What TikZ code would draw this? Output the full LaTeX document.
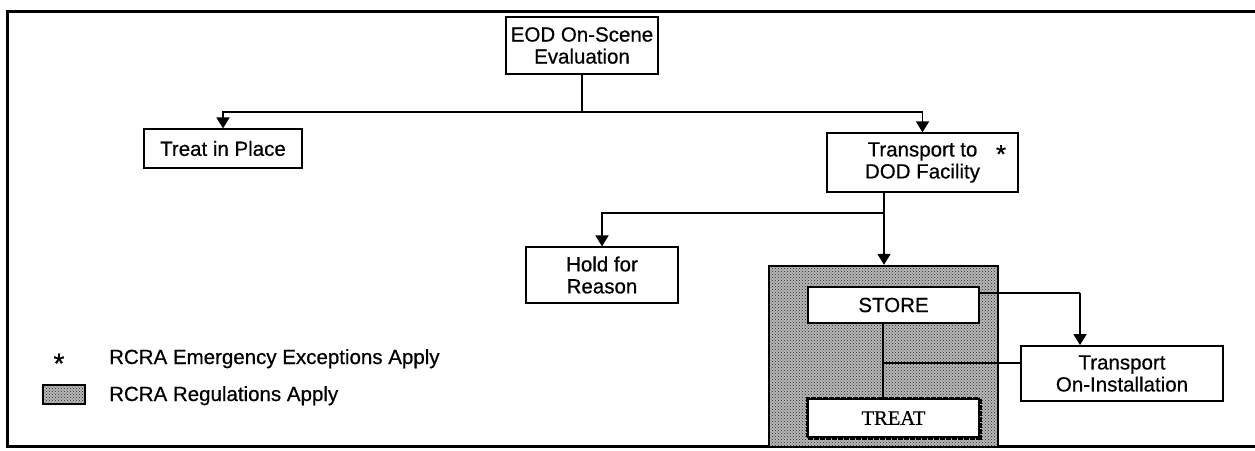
\documentclass[tikz,border=0pt]{standalone}
\usepackage{fontspec}
\setmainfont{Liberation Sans}[FakeBold=0.6]
\newfontfamily\timesfont{Liberation Serif}[FakeBold=0.5]
\usetikzlibrary{arrows.meta,patterns}
\begin{document}
\begin{tikzpicture}[x=1pt,y=-1pt,
  txt/.style={font=\fontsize{20.5}{22}\selectfont, align=center, inner sep=0pt},
  box/.style={txt, draw, line width=1.2pt, fill=white},
  conn/.style={line width=1.8pt},
  arr/.style={conn, -{Triangle[width=13pt,length=11pt]}},
  frame/.style={line width=3pt},
  shade/.style={preaction={fill=black!28}, pattern=crosshatch dots, pattern color=black!85}
]
\useasboundingbox (0,0) rectangle (1255,450);
% frame
\draw[frame] (1255,11) -- (7,11) -- (7,446) -- (1255,446);

% nodes
\node[box, minimum width=152pt, minimum height=57pt] (eod) at (582,45.5) {EOD On-Scene\\Evaluation};
\node[box, minimum width=158pt, minimum height=39pt] (tip) at (223,148.5) {Treat in Place};
\node[box, minimum width=191pt, minimum height=59pt] (dod) at (922.5,162.5) {Transport to\\DOD Facility};
\node[txt, anchor=base, font=\fontsize{26}{26}\selectfont] (star1) at (1001,163) {*};
\node[box, minimum width=152pt, minimum height=56pt] (hold) at (602,275) {Hold for\\Reason};

% shaded region
\node[draw, line width=2.4pt, minimum width=229pt, minimum height=181pt, inner sep=0pt, shade] (rcra) at (883.5,356.5) {};

\node[box, line width=2.6pt, minimum width=171pt, minimum height=36pt] (store) at (893.5,305) {STORE};
\node[box, line width=2.6pt, preaction={draw, line width=5pt, densely dotted},
      minimum width=171pt, minimum height=38pt, font=\timesfont\fontsize{20.5}{22}\selectfont] (treat) at (893.5,418) {TREAT};
\node[box, line width=1.8pt, minimum width=202pt, minimum height=55pt] (inst) at (1122,373.5) {Transport\\On-Installation};

% connectors
\coordinate (j1) at (582,112);
\draw[conn] (eod.south) -- (j1);
\draw[arr] (j1) -| (tip.north);
\draw[arr] (j1) -| (dod.north);

\coordinate (j2) at (884,213);
\draw[conn] (j2 |- dod.south) -- (j2);
\draw[arr] (j2) -| (hold.north);
\draw[arr] (j2) -- (j2 |- rcra.north);

\coordinate (k) at (1080,293);
\draw[conn] (k -| store.east) -- (k);
\draw[arr] (k) -- (k |- inst.north);

\coordinate (j3) at (883,363);
\draw[conn] (j3 |- store.south) -- (j3 |- treat.north);
\draw[conn] (j3) -- (j3 -| inst.west);

% legend
\node[txt, anchor=base, font=\fontsize{28}{28}\selectfont] (lstar) at (59,373) {*};
\node[txt, anchor=base west] (l1) at (109,364) {RCRA Emergency Exceptions Apply};
\node[draw, line width=1.4pt, minimum width=42pt, minimum height=19pt, inner sep=0pt, shade] (lsw) at (64,394.5) {};
\node[txt, anchor=base west] (l2) at (109,401) {RCRA Regulations Apply};
\end{tikzpicture}
\end{document}
